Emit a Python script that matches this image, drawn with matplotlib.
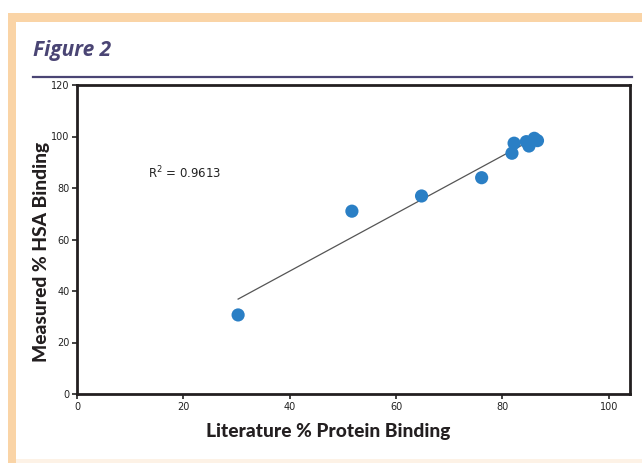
import matplotlib.pyplot as plt
from matplotlib.patches import Rectangle
from matplotlib.lines import Line2D
import numpy as np

# literature vs measured binding
literature_binding = [30.3, 51.7, 64.8, 76.1, 81.8, 82.2, 84.5, 85.0, 86.0, 86.6]
measured_binding = [30.7, 71.0, 76.9, 84.0, 93.5, 97.4, 98.0, 96.3, 99.3, 98.4]
x_ticks = [0, 20, 40, 60, 80, 100]
y_ticks = [0, 20, 40, 60, 80, 100, 120]
r_squared_label = "R$^2$ = 0.9613"

W, H = 642, 463
fig = plt.figure(figsize=(W / 100, H / 100), dpi=100)
fig.patch.set_facecolor("white")

# orange frame around the figure box
frame_color = "#fad4a6"
fig.patches.append(Rectangle((8 / W, 1 - 22 / H), 1, 9 / H, transform=fig.transFigure,
                             facecolor=frame_color, edgecolor="none", zorder=0))
fig.patches.append(Rectangle((8 / W, 0), 8 / W, 1 - 13 / H, transform=fig.transFigure,
                             facecolor=frame_color, edgecolor="none", zorder=0))
fig.patches.append(Rectangle((16 / W, 0), 1, 4 / H, transform=fig.transFigure,
                             facecolor="#fdf2e6", edgecolor="none", zorder=0))

# heading
title_color = "#4a4574"
fig.text(33 / W, 1 - 56 / H, "Figure 2", fontsize=15, fontweight="bold", fontstyle="italic",
         color=title_color, family="Open Sans", ha="left", va="baseline")
fig.lines.append(Line2D([33 / W, 632 / W], [1 - 77 / H, 1 - 77 / H], transform=fig.transFigure,
                        color=title_color, linewidth=1.6))

ax = fig.add_axes([77 / W, 69 / H, 553 / W, 309 / H])
ax.set_xlim(0, 104)
ax.set_ylim(0, 120)

# linear trend line
coef = np.polyfit(literature_binding, measured_binding, 1)
fit_x = np.array([min(literature_binding), max(literature_binding)])
ax.plot(fit_x, np.polyval(coef, fit_x), color="#555555", linewidth=0.9, zorder=2)

ax.scatter(literature_binding, measured_binding, s=90, color="#2a7fc5", edgecolors="none", zorder=3)

ax.text(13.3, 85.8, r_squared_label, fontsize=8.5, color="#222222", va="center", ha="left")

ax.set_xticks(x_ticks)
ax.set_yticks(y_ticks)
ax.tick_params(axis="both", direction="out", length=3.5, width=1.2, labelsize=7, pad=2,
               colors="#222222")
for spine in ax.spines.values():
    spine.set_linewidth(2)
    spine.set_color("#231f20")

ax.set_xlabel("Literature % Protein Binding", fontsize=13.8, fontweight="black", family="Lato",
              color="#231f20")
ax.set_ylabel("Measured % HSA Binding", fontsize=13.8, fontweight="black", family="Lato",
              color="#231f20")
ax.xaxis.set_label_coords(0.454, -0.095)
ax.yaxis.set_label_coords(-0.048, 0.46)

fig.savefig("out.png", dpi=100)
